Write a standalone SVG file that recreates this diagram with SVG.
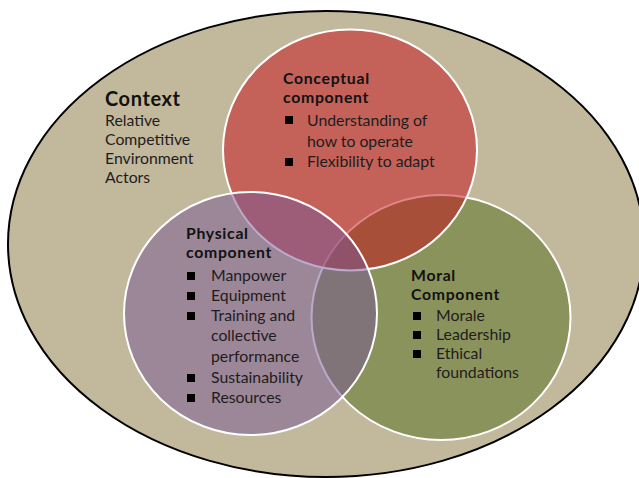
<svg xmlns="http://www.w3.org/2000/svg" width="639" height="478" viewBox="0 0 639 478">
<style>
.t{font-family:Lato,"Open Sans","Liberation Sans",sans-serif;font-size:15.8px;fill:#1e1c1c}
.h{font-family:Lato,"Open Sans","Liberation Sans",sans-serif;font-size:15.8px;font-weight:bold;letter-spacing:0.7px;fill:#111}
.c{stroke:#fff;stroke-width:2;fill-opacity:0.5}
.b{fill:#000}
</style>
<rect width="639" height="478" fill="#fff"/>
<g id="context">
<ellipse cx="326" cy="244" rx="318" ry="233" fill="#c2b99c" stroke="#000" stroke-width="2"/>
<text class="h" x="105" y="106" style="font-size:20px;letter-spacing:0.6px">Context</text>
<text class="t" x="105" y="126">Relative</text>
<text class="t" x="105" y="145">Competitive</text>
<text class="t" x="105" y="164">Environment</text>
<text class="t" x="105" y="183">Actors</text>
</g>
<g id="moral">
<ellipse class="c" cx="441" cy="317.5" rx="129.5" ry="122.5" fill="#546d1c"/>
</g>
<g id="conceptual">
<ellipse class="c" cx="350" cy="150" rx="127" ry="120.5" fill="#c60b18"/>
</g>
<g id="physical">
<ellipse class="c" cx="250.5" cy="313.5" rx="126.5" ry="121.5" fill="#765596"/>
</g>
<g id="conceptual-text">
<text class="h" x="283" y="83.5">Conceptual</text>
<text class="h" x="283" y="102.5">component</text>
<rect class="b" x="285" y="116" width="8" height="8"/>
<text class="t" x="307" y="126">Understanding of</text>
<text class="t" x="307" y="147">how to operate</text>
<rect class="b" x="285" y="158" width="8" height="8"/>
<text class="t" x="307" y="167">Flexibility to adapt</text>
</g>
<g id="physical-text">
<text class="h" x="186" y="238.5">Physical</text>
<text class="h" x="186" y="257.5">component</text>
<rect class="b" x="187" y="272" width="8" height="8"/>
<text class="t" x="211" y="281">Manpower</text>
<rect class="b" x="187" y="292" width="8" height="8"/>
<text class="t" x="211" y="301">Equipment</text>
<rect class="b" x="187" y="312" width="8" height="8"/>
<text class="t" x="211" y="321">Training and</text>
<text class="t" x="211" y="341">collective</text>
<text class="t" x="211" y="362">performance</text>
<rect class="b" x="187" y="374" width="8" height="8"/>
<text class="t" x="211" y="383">Sustainability</text>
<rect class="b" x="187" y="394" width="8" height="8"/>
<text class="t" x="211" y="403">Resources</text>
</g>
<g id="moral-text">
<text class="h" x="411" y="281">Moral</text>
<text class="h" x="411" y="300">Component</text>
<rect class="b" x="413" y="312" width="8" height="8"/>
<text class="t" x="436" y="321">Morale</text>
<rect class="b" x="413" y="331" width="8" height="8"/>
<text class="t" x="436" y="340">Leadership</text>
<rect class="b" x="413" y="350" width="8" height="8"/>
<text class="t" x="436" y="359">Ethical</text>
<text class="t" x="436" y="377.5">foundations</text>
</g>
<g id="connectors"/>
</svg>
